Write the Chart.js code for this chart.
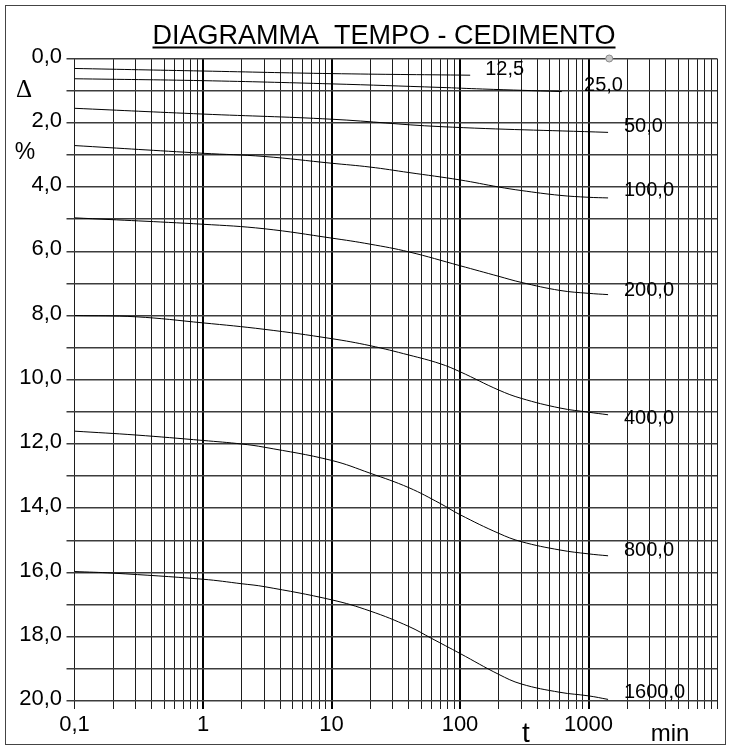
<!DOCTYPE html>
<html>
<head>
<meta charset="utf-8">
<script src="https://cdn.jsdelivr.net/npm/chart.js@4.4.1/dist/chart.umd.min.js"></script>
<style>
  html, body { margin: 0; padding: 0; background: #fff; }
  #wrap { width: 731px; height: 749px; }
</style>
</head>
<body>
<div id="wrap"><canvas id="chart" width="731" height="749"></canvas></div>
<script>
// time (min) and settlement (%), one pair per load step
const t125 = [0.1, 1, 10, 120];
const d125 = [0.31, 0.39, 0.47, 0.52];
const t250 = [0.1, 1, 10, 70, 150, 620];
const d250 = [0.63, 0.69, 0.79, 0.90, 0.95, 1.03];
const t500 = [0.1, 1, 10, 70, 1420];
const d500 = [1.55, 1.73, 1.89, 2.12, 2.30];
const t1000 = [0.1, 1, 3, 10, 20, 40, 100, 200, 300, 600, 1000, 1420];
const d1000 = [2.71, 2.95, 3.05, 3.26, 3.38, 3.55, 3.78, 4.00, 4.11, 4.26, 4.32, 4.34];
const t2000 = [0.1, 1, 3, 10, 20, 40, 100, 200, 300, 600, 1000, 1420];
const d2000 = [4.96, 5.16, 5.30, 5.59, 5.78, 6.02, 6.45, 6.78, 6.97, 7.22, 7.31, 7.35];
const t4000 = [0.1, 0.3, 1, 3, 10, 20, 40, 70, 100, 200, 300, 600, 1000, 1420];
const d4000 = [8.00, 8.04, 8.23, 8.43, 8.72, 8.94, 9.23, 9.50, 9.75, 10.32, 10.58, 10.88, 11.01, 11.09];
const t8000 = [0.1, 0.3, 1, 2, 3, 10, 20, 40, 70, 100, 200, 300, 600, 1000, 1420];
const d8000 = [11.60, 11.72, 11.89, 12.00, 12.10, 12.51, 12.91, 13.36, 13.85, 14.20, 14.78, 15.04, 15.30, 15.42, 15.48];
const t16000 = [0.1, 0.2, 1, 2, 3, 10, 20, 40, 60, 100, 200, 300, 600, 1000, 1420];
const d16000 = [15.97, 16.02, 16.21, 16.35, 16.44, 16.85, 17.20, 17.68, 18.05, 18.52, 19.17, 19.47, 19.73, 19.84, 19.95];

const loadLabels = ['12,5', '25,0', '50,0', '100,0', '200,0', '400,0', '800,0', '1600,0'];
const loadTimes = [t125, t250, t500, t1000, t2000, t4000, t8000, t16000];
const loadValues = [d125, d250, d500, d1000, d2000, d4000, d8000, d16000];
// where each load label sits (time, settlement)
const labelT = [157, 923, 1888, 1888, 1888, 1888, 1888, 1888];
const labelD = [0.33, 0.84, 2.12, 4.11, 7.21, 11.2, 15.31, 19.75];

const markerT = [1450];
const markerD = [0];

const xDecades = [-1, 0, 1, 2, 3];
const xLabelled = [0.1, 1, 10, 100, 1000];
const yMin = 0, yMax = 20;

const titleText = 'DIAGRAMMA  TEMPO - CEDIMENTO';
const sans = '"Liberation Sans", Arial, Helvetica, sans-serif';

const datasets = loadLabels.map((lab, i) => ({
  label: lab,
  data: loadTimes[i].map((t, j) => ({ x: t, y: loadValues[i][j] })),
  borderColor: '#000',
  borderWidth: 1,
  pointRadius: 0,
  fill: false,
  tension: 0.4
}));
datasets.push({
  type: 'scatter',
  label: 'marker',
  data: markerT.map((t, j) => ({ x: t, y: markerD[j] })),
  pointRadius: 3.5,
  pointBackgroundColor: '#c8c8c8',
  pointBorderColor: '#8a8a8a',
  pointBorderWidth: 1,
  clip: false
});

const decorations = {
  id: 'decorations',
  afterDraw(chart) {
    const ctx = chart.ctx;
    const xs = chart.scales.x, ys = chart.scales.y;
    ctx.save();
    ctx.strokeStyle = '#444';
    ctx.lineWidth = 1;
    ctx.strokeRect(5.5, 5.5, 720, 739);

    ctx.fillStyle = '#000';
    ctx.textBaseline = 'alphabetic';
    ctx.textAlign = 'center';
    ctx.font = '27px ' + sans;
    ctx.fillText(titleText, 384, 43.5);
    const w = ctx.measureText(titleText).width;
    ctx.fillRect(384 - w / 2, 46.5, w, 2);

    ctx.font = '25px "Liberation Serif", "Times New Roman", serif';
    ctx.textBaseline = 'middle';
    ctx.fillText('\u0394', 24, 90);
    ctx.font = '23px ' + sans;
    ctx.fillText('%', 25, 153);

    ctx.textBaseline = 'alphabetic';
    ctx.font = '28px ' + sans;
    ctx.fillText('t', 526, 742);
    ctx.font = '24px ' + sans;
    ctx.fillText('min', 670, 741);

    ctx.textAlign = 'left';
    ctx.textBaseline = 'middle';
    ctx.font = '20px ' + sans;
    loadLabels.forEach((lab, i) => {
      ctx.fillText(lab, xs.getPixelForValue(labelT[i]), ys.getPixelForValue(labelD[i]));
    });
    ctx.restore();
  }
};

new Chart(document.getElementById('chart'), {
  type: 'line',
  data: { datasets },
  options: {
    responsive: false,
    animation: false,
    devicePixelRatio: 1,
    layout: { padding: { top: 58.5, right: 14, bottom: 0, left: 0 } },
    plugins: { legend: { display: false }, tooltip: { enabled: false }, title: { display: false } },
    scales: {
      x: {
        type: 'logarithmic',
        min: 0.1,
        max: 10000,
        afterBuildTicks: (s) => {
          const ticks = [];
          xDecades.forEach(d => {
            for (let k = 1; k <= 9; k++) ticks.push({ value: k * Math.pow(10, d) });
          });
          ticks.push({ value: 10000 });
          s.ticks = ticks;
        },
        afterFit: (s) => { s.height = 48; },
        border: { display: false },
        grid: {
          drawTicks: true,
          tickLength: 8,
          color: (c) => xLabelled.slice(1).includes(c.tick.value) ? '#000' : '#1e1e1e',
          lineWidth: (c) => xLabelled.slice(1).includes(c.tick.value) ? 2 : 1
        },
        ticks: {
          autoSkip: false,
          maxRotation: 0,
          padding: 3,
          color: '#000',
          font: { family: sans, size: 22 },
          callback: (v) => xLabelled.includes(v) ? String(v).replace('.', ',') : ''
        }
      },
      y: {
        type: 'linear',
        reverse: true,
        min: yMin,
        max: yMax,
        afterFit: (s) => { s.width = 74.5; },
        border: { display: false },
        grid: {
          drawTicks: true,
          tickLength: 8,
          color: '#3c3c3c',
          lineWidth: 1.5
        },
        ticks: {
          stepSize: 1,
          autoSkip: false,
          padding: 4.5,
          labelOffset: -2,
          color: '#000',
          font: { family: sans, size: 22 },
          callback: (v) => v % 2 === 0 ? v.toFixed(1).replace('.', ',') : ''
        }
      }
    }
  },
  plugins: [decorations]
});
</script>
</body>
</html>
